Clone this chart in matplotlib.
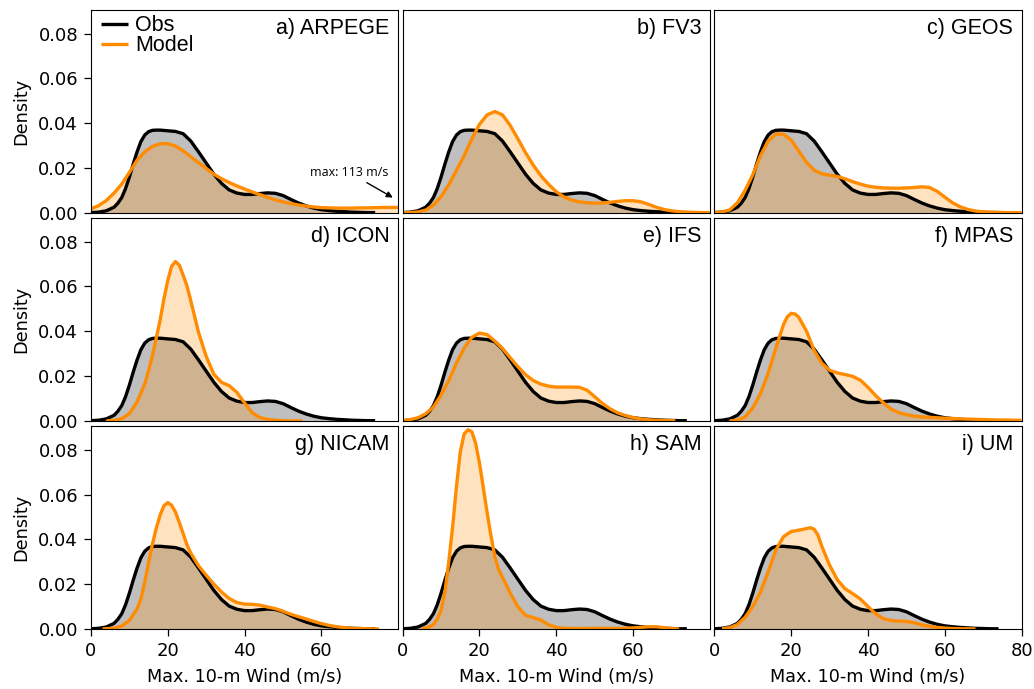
import matplotlib
matplotlib.use("Agg")
import matplotlib.pyplot as plt

# ---------------------------------------------------------------------------
# Kernel density curves of maximum 10-m wind (m/s) for observations and models
# ---------------------------------------------------------------------------
panel_titles = ["a) ARPEGE", "b) FV3", "c) GEOS",
                "d) ICON", "e) IFS", "f) MPAS",
                "g) NICAM", "h) SAM", "i) UM"]

obs_wind = [0, 2, 4, 6, 7, 8, 9, 10, 11, 12, 13, 14, 15, 16, 17, 18, 20, 22, 24,
            26, 28, 30, 32, 34, 36, 38, 40, 42, 44, 46, 48, 50, 52, 54, 56, 58,
            60, 62, 64, 66, 68, 70, 72, 74]
obs_density = [0.0001, 0.0003, 0.0009, 0.0025, 0.0043, 0.0068, 0.0108, 0.0160,
               0.0218, 0.0272, 0.0318, 0.0347, 0.0362, 0.0368, 0.0369, 0.0369,
               0.0366, 0.0363, 0.0353, 0.0320, 0.0272, 0.0222, 0.0172, 0.0131,
               0.0102, 0.0088, 0.0082, 0.0082, 0.0086, 0.0089, 0.0087, 0.0077,
               0.0060, 0.0044, 0.0031, 0.0021, 0.0014, 0.0010, 0.0007, 0.0005,
               0.0003, 0.0002, 0.0001, 0.0001]

arpege_wind = list(range(0, 82, 2))
arpege_density = [0.0018, 0.0032, 0.0055, 0.0088, 0.0128, 0.0180, 0.0235, 0.0272,
                  0.0296, 0.0308, 0.0309, 0.0298, 0.0277, 0.0250, 0.0224, 0.0198,
                  0.0172, 0.0152, 0.0135, 0.0120, 0.0106, 0.0093, 0.0081, 0.0069,
                  0.0058, 0.0049, 0.0041, 0.0035, 0.0030, 0.0026, 0.0023, 0.0022,
                  0.0021, 0.0021, 0.0021, 0.0022, 0.0022, 0.0023, 0.0024, 0.0024,
                  0.0024]

fv3_wind = list(range(0, 82, 2))
fv3_density = [0.0000, 0.0001, 0.0004, 0.0012, 0.0035, 0.0072, 0.0125, 0.0190,
               0.0255, 0.0330, 0.0395, 0.0437, 0.0452, 0.0437, 0.0390, 0.0330,
               0.0268, 0.0213, 0.0165, 0.0127, 0.0094, 0.0071, 0.0057, 0.0049,
               0.0045, 0.0043, 0.0044, 0.0047, 0.0051, 0.0054, 0.0054, 0.0049,
               0.0038, 0.0025, 0.0015, 0.0009, 0.0005, 0.0003, 0.0002, 0.0001,
               0.0001]

geos_wind = list(range(0, 82, 2))
geos_density = [0.0001, 0.0004, 0.0013, 0.0045, 0.0100, 0.0170, 0.0255, 0.0320,
                0.0352, 0.0350, 0.0325, 0.0275, 0.0225, 0.0190, 0.0174, 0.0168,
                0.0162, 0.0152, 0.0139, 0.0128, 0.0119, 0.0114, 0.0111, 0.0110,
                0.0110, 0.0111, 0.0113, 0.0116, 0.0113, 0.0096, 0.0070, 0.0045,
                0.0027, 0.0015, 0.0008, 0.0004, 0.0003, 0.0002, 0.0001, 0.0001,
                0.0001]

icon_wind = [4, 6, 8, 10, 12, 14, 15, 16, 17, 18, 19, 20, 21, 22, 23, 24, 25, 26,
             27, 28, 30, 32, 34, 36, 38, 40, 42, 44, 46, 48, 50, 52, 55]
icon_density = [0.0000, 0.0002, 0.0010, 0.0033, 0.0085, 0.0165, 0.0225, 0.0292,
                0.0370, 0.0449, 0.0545, 0.0627, 0.0690, 0.0711, 0.0695, 0.0650,
                0.0602, 0.0535, 0.0465, 0.0395, 0.0288, 0.0208, 0.0172, 0.0157,
                0.0127, 0.0080, 0.0036, 0.0015, 0.0007, 0.0003, 0.0001, 0.0000,
                0.0000]

ifs_wind = list(range(0, 72, 2)) + [71]
ifs_density = [0.0002, 0.0006, 0.0014, 0.0032, 0.0062, 0.0115, 0.0180, 0.0258,
               0.0325, 0.0373, 0.0392, 0.0385, 0.0356, 0.0323, 0.0282, 0.0242,
               0.0206, 0.0180, 0.0164, 0.0155, 0.0151, 0.0151, 0.0151, 0.0150,
               0.0137, 0.0108, 0.0078, 0.0054, 0.0036, 0.0024, 0.0015, 0.0009,
               0.0005, 0.0003, 0.0002, 0.0001, 0.0000]

mpas_wind = [4, 6, 8, 10, 12, 14, 16, 18, 19, 20, 21, 22, 24, 26, 28, 30, 32, 34,
             36, 38, 40, 42, 44, 46, 48, 50, 52, 54, 56, 58, 60, 62, 64, 66, 68,
             70, 72, 74, 76, 78, 80]
mpas_density = [0.0000, 0.0003, 0.0018, 0.0058, 0.0122, 0.0212, 0.0325, 0.0430,
                0.0465, 0.0480, 0.0477, 0.0462, 0.0400, 0.0314, 0.0257, 0.0226,
                0.0214, 0.0207, 0.0199, 0.0182, 0.0150, 0.0113, 0.0081, 0.0053,
                0.0037, 0.0028, 0.0022, 0.0018, 0.0016, 0.0014, 0.0012, 0.0011,
                0.0009, 0.0008, 0.0007, 0.0006, 0.0005, 0.0004, 0.0004, 0.0003,
                0.0003]

nicam_wind = [3, 6, 8, 10, 12, 13, 14, 15, 16, 17, 18, 19, 20, 21, 22, 23, 24, 25,
              26, 28, 30, 32, 34, 36, 38, 40, 42, 44, 46, 48, 50, 52, 54, 56, 58,
              60, 62, 64, 66, 68, 70, 72, 75]
nicam_density = [0.0000, 0.0004, 0.0013, 0.0038, 0.0090, 0.0135, 0.0210, 0.0295,
                 0.0378, 0.0450, 0.0508, 0.0550, 0.0564, 0.0552, 0.0522, 0.0475,
                 0.0425, 0.0375, 0.0338, 0.0282, 0.0240, 0.0200, 0.0165, 0.0136,
                 0.0118, 0.0111, 0.0110, 0.0106, 0.0098, 0.0091, 0.0079, 0.0066,
                 0.0055, 0.0045, 0.0034, 0.0024, 0.0016, 0.0010, 0.0006, 0.0003,
                 0.0002, 0.0001, 0.0000]

sam_wind = [5, 7, 8, 9, 10, 11, 12, 13, 14, 15, 16, 17, 18, 19, 20, 21, 22, 23,
            24, 25, 26, 27, 28, 30, 32, 34, 36, 38, 40, 42, 46, 50, 54, 58, 61,
            64, 66, 68, 70, 72]
sam_density = [0.0000, 0.0010, 0.0020, 0.0043, 0.0085, 0.0165, 0.0300, 0.0455,
               0.0635, 0.0790, 0.0870, 0.0889, 0.0880, 0.0828, 0.0740, 0.0630,
               0.0518, 0.0415, 0.0322, 0.0265, 0.0230, 0.0197, 0.0160, 0.0100,
               0.0061, 0.0051, 0.0040, 0.0019, 0.0007, 0.0003, 0.0002, 0.0003,
               0.0002, 0.0003, 0.0006, 0.0010, 0.0010, 0.0006, 0.0002, 0.0000]

um_wind = [2, 4, 6, 8, 10, 12, 14, 16, 18, 20, 22, 24, 25, 26, 27, 28, 30, 32,
           34, 36, 38, 40, 42, 44, 46, 48, 50, 52, 54, 56, 58, 60, 62, 64, 66, 68]
um_density = [0.0001, 0.0006, 0.0020, 0.0052, 0.0100, 0.0165, 0.0255, 0.0352,
              0.0412, 0.0435, 0.0441, 0.0448, 0.0452, 0.0445, 0.0418, 0.0368,
              0.0285, 0.0220, 0.0180, 0.0158, 0.0134, 0.0100, 0.0068, 0.0046,
              0.0038, 0.0035, 0.0034, 0.0028, 0.0019, 0.0012, 0.0007, 0.0004,
              0.0002, 0.0001, 0.0001, 0.0000]

model_curves = [(arpege_wind, arpege_density), (fv3_wind, fv3_density),
                (geos_wind, geos_density), (icon_wind, icon_density),
                (ifs_wind, ifs_density), (mpas_wind, mpas_density),
                (nicam_wind, nicam_density), (sam_wind, sam_density),
                (um_wind, um_density)]

x_ticks_inner = [0, 20, 40, 60]
x_ticks_outer = [0, 20, 40, 60, 80]
y_ticks = [0.00, 0.02, 0.04, 0.06, 0.08]

OBS_COLOR = "black"
MODEL_COLOR = "darkorange"
LINE_W = 2.4
FILL_ALPHA = 0.25
LABEL_FONT = ["Liberation Sans", "DejaVu Sans"]

fig, axes = plt.subplots(3, 3, figsize=(10.34, 6.89), dpi=100, sharey=True)
fig.subplots_adjust(left=0.088, right=0.988, bottom=0.0871, top=0.9855,
                    wspace=0.0146, hspace=0.026)


def density_curve(ax, x, y, color):
    ax.fill_between(x, y, 0, color=color, alpha=FILL_ALPHA, lw=0)
    line, = ax.plot(x, y, color=color, lw=LINE_W, solid_capstyle="butt")
    return line


for i, ax in enumerate(axes.flat):
    row, col = divmod(i, 3)
    obs_line = density_curve(ax, obs_wind, obs_density, OBS_COLOR)
    mx, my = model_curves[i]
    model_line = density_curve(ax, mx, my, MODEL_COLOR)

    ax.set_xlim(0, 80)
    ax.set_ylim(0, 0.0905)
    ax.set_xticks(x_ticks_outer if col == 2 else x_ticks_inner)
    ax.set_yticks(y_ticks)
    ax.tick_params(labelsize=13, length=4.8, width=0.9, pad=4.5)
    if row < 2:
        ax.tick_params(bottom=False, labelbottom=False)
    else:
        ax.set_xlabel("Max. 10-m Wind (m/s)", fontsize=12.7, labelpad=6)
    if col == 0:
        ax.set_ylabel("Density", fontsize=12.7, labelpad=6)
    else:
        ax.tick_params(left=False)

    ax.text(0.972, 0.96, panel_titles[i], transform=ax.transAxes,
            ha="right", va="top", fontsize=15.5, family=LABEL_FONT)

    if i == 0:
        ax.legend([obs_line, model_line], ["Obs", "Model"], loc="upper left",
                  bbox_to_anchor=(0.02, 0.995), frameon=False,
                  prop={"family": LABEL_FONT, "size": 15.5},
                  handlelength=1.25, handletextpad=0.3, labelspacing=-0.05,
                  borderaxespad=0.0, borderpad=0.2)
        ax.annotate("max: 113 m/s", xy=(78.6, 0.0068), xytext=(67.3, 0.0179),
                    ha="center", va="center", fontsize=9,
                    family=["Open Sans", "DejaVu Sans"],
                    arrowprops=dict(arrowstyle="-|>", color="black", lw=1.0,
                                    mutation_scale=9, shrinkA=1, shrinkB=0))

fig.savefig("out.png", dpi=100)
